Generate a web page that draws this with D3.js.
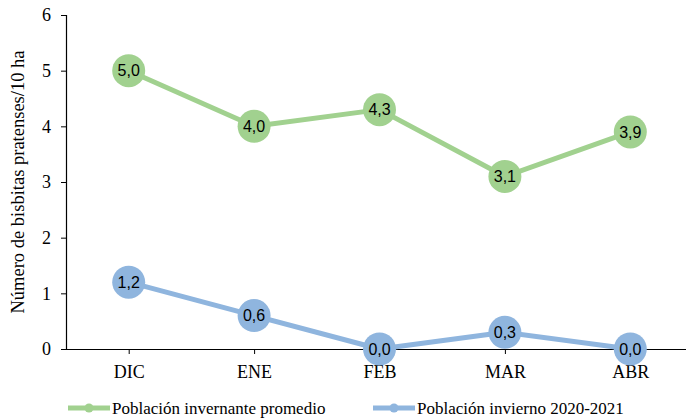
<!DOCTYPE html>
<html>
<head>
<meta charset="utf-8">
<script src="https://cdn.jsdelivr.net/npm/d3@7"></script>
<style>
  html, body { margin: 0; padding: 0; background: #fff; }
  svg { display: block; }
</style>
</head>
<body>
<svg id="chart" width="686" height="419"></svg>
<script>
// Monthly counts per 10 ha
const months = ["DIC", "ENE", "FEB", "MAR", "ABR"];
const promedio = [5.0, 4.0, 4.3, 3.1, 3.9];
const invierno2021 = [1.2, 0.6, 0.0, 0.3, 0.0];
const yTicks = [0, 1, 2, 3, 4, 5, 6];
const seriesNames = ["Población invernante promedio", "Población invierno 2020-2021"];
const seriesColors = ["#a1d18f", "#8fb5de"];

const svg = d3.select("#chart");
const serif = "'Liberation Serif', 'Times New Roman', serif";
const sans = "'Liberation Sans', Arial, sans-serif";

const x = d3.scalePoint().domain(months).range([66, 693]).padding(0.5);
const y = d3.scaleLinear().domain([0, 6]).range([349, 15]);

// Y axis
const yAxis = svg.append("g")
  .attr("transform", "translate(66,0)")
  .call(d3.axisLeft(y).tickValues(yTicks).tickSize(5).tickPadding(10).tickFormat(d3.format("d")));
yAxis.select(".domain").attr("stroke", "#000").attr("stroke-width", 1.2);
yAxis.selectAll(".tick line").attr("stroke", "#000");
yAxis.selectAll(".tick text").attr("font-family", serif).attr("font-size", 18).attr("fill", "#000");

// X axis
const xAxis = svg.append("g")
  .attr("transform", "translate(0,349)")
  .call(d3.axisBottom(x).tickSize(5).tickPadding(11).tickSizeOuter(0));
xAxis.select(".domain").attr("stroke", "#000").attr("stroke-width", 1.2);
xAxis.selectAll(".tick line").attr("stroke", "#000");
xAxis.selectAll(".tick text").attr("font-family", serif).attr("font-size", 18).attr("fill", "#000");

// Y title
svg.append("text")
  .attr("transform", "translate(24,182) rotate(-90)")
  .attr("text-anchor", "middle")
  .attr("font-family", serif)
  .attr("font-size", 18.5)
  .attr("fill", "#000")
  .text("Número de bisbitas pratenses/10 ha");

const fmt = v => v.toFixed(1).replace(".", ",");
const line = d3.line().x((d, i) => x(months[i])).y(d => y(d));

[promedio, invierno2021].forEach((vals, k) => {
  const g = svg.append("g");
  g.append("path")
    .datum(vals)
    .attr("d", line)
    .attr("fill", "none")
    .attr("stroke", seriesColors[k])
    .attr("stroke-width", 5)
    .attr("stroke-linejoin", "round");
  const pts = g.selectAll("g.pt").data(vals).enter().append("g")
    .attr("transform", (d, i) => `translate(${x(months[i])},${y(d)})`);
  pts.append("circle").attr("r", 16.5).attr("fill", seriesColors[k]);
  pts.append("text")
    .attr("text-anchor", "middle")
    .attr("dy", "0.36em")
    .attr("font-family", sans)
    .attr("font-size", 16)
    .attr("fill", "#000")
    .text(d => fmt(d));
});

// Legend
const legendX = [68, 373];
seriesNames.forEach((name, k) => {
  const g = svg.append("g").attr("transform", `translate(${legendX[k]},408)`);
  g.append("line").attr("x1", 0).attr("x2", 42).attr("y1", 0).attr("y2", 0)
    .attr("stroke", seriesColors[k]).attr("stroke-width", 5);
  g.append("circle").attr("cx", 21).attr("cy", 0).attr("r", 4.5).attr("fill", seriesColors[k]);
  g.append("text").attr("x", 44).attr("y", 0).attr("dy", "0.35em")
    .attr("font-family", serif).attr("font-size", 17).attr("fill", "#000")
    .text(name);
});
</script>
</body>
</html>
